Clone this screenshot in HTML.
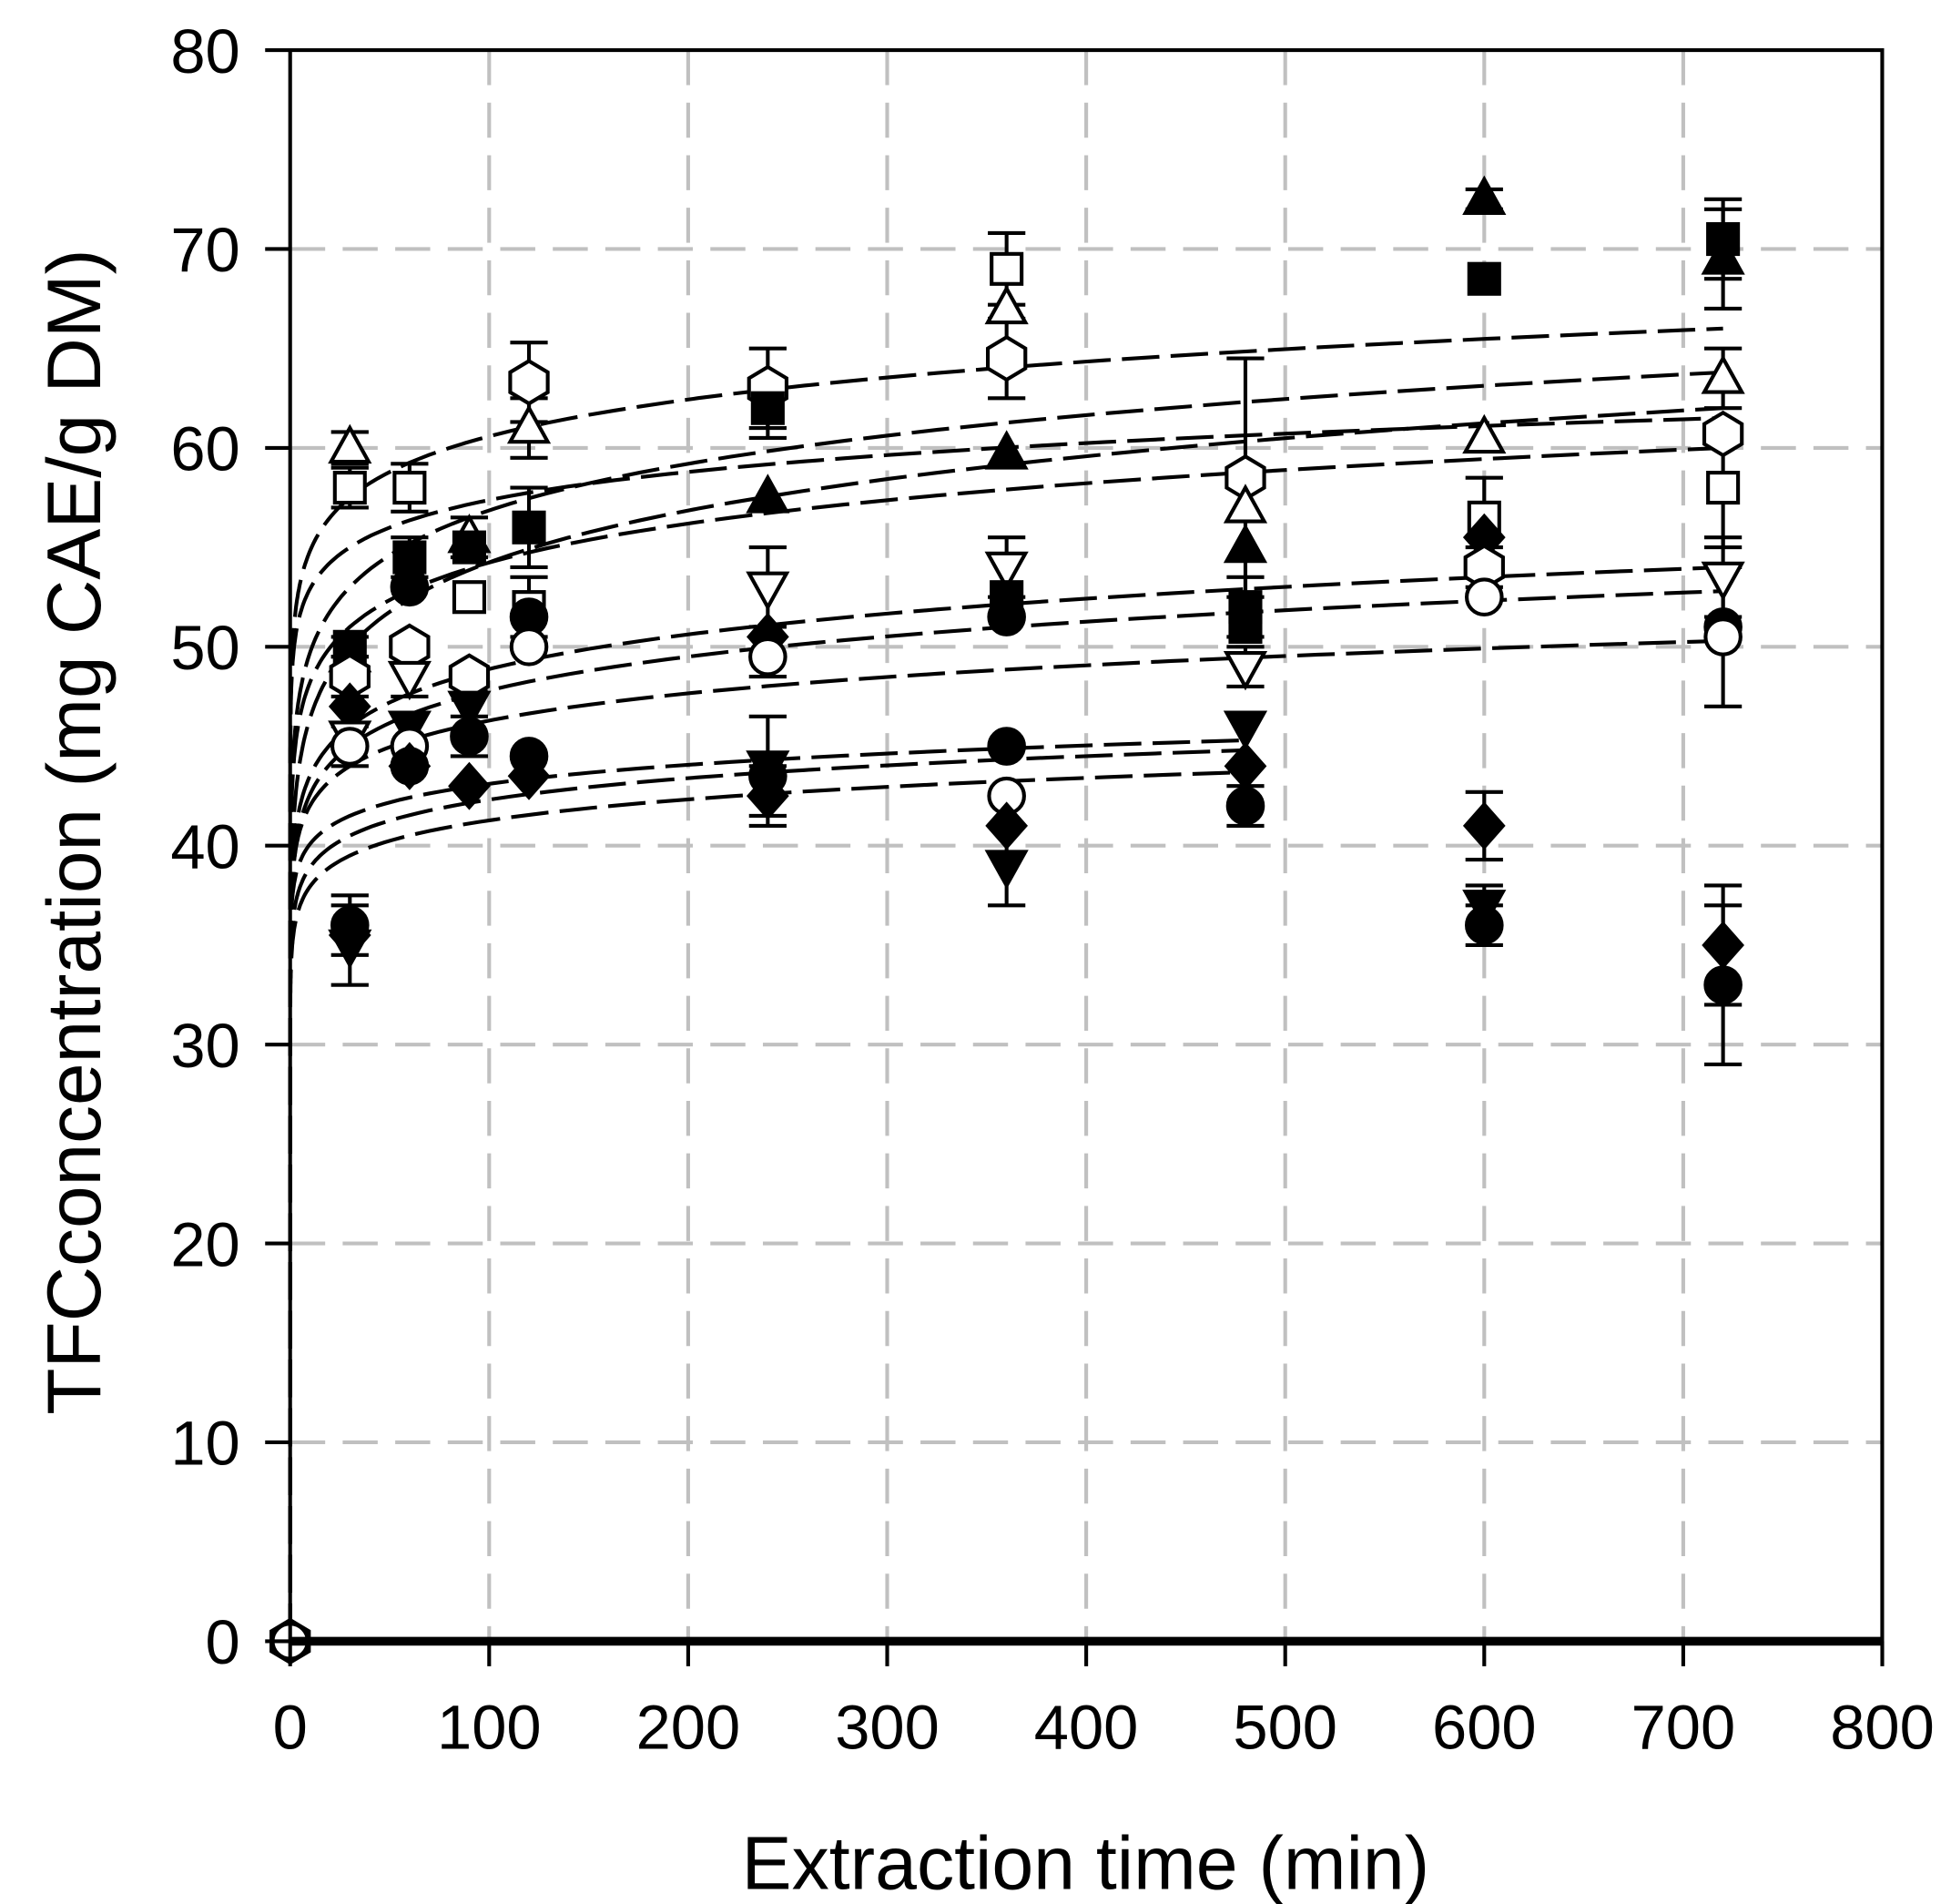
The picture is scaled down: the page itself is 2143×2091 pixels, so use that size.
<!DOCTYPE html>
<html><head><meta charset="utf-8"><style>
html,body{margin:0;padding:0;background:#fff}
svg{display:block}
text{font-family:"Liberation Sans",Arial,sans-serif;fill:#000}
</style></head><body>
<svg id="s" width="2143" height="2091" viewBox="0 0 1560 1522" xmlns="http://www.w3.org/2000/svg">
<rect width="1560" height="1522" fill="#fff"/>
<g id="grid" stroke="#c0c0c0" stroke-width="3" stroke-dasharray="28,14"></g>
<g id="curves" fill="none" stroke="#000" stroke-width="3" stroke-dasharray="30,9"></g>
<g id="err" stroke="#000" stroke-width="3"></g>
<g id="mk" stroke="#000" stroke-width="3"></g>
<g id="axes" stroke="#000" stroke-width="3"></g>
<g id="lbl" font-size="50"></g>
<text x="868" y="1510" font-size="60" text-anchor="middle">Extraction time (min)</text>
<text transform="translate(80,665) rotate(-90)" font-size="61" text-anchor="middle">TFCconcentration (mg CAE/g DM)</text>
</svg>
<script>
const NS="http://www.w3.org/2000/svg";
const X=t=>232+t*1.5913, Y=v=>1312-v*15.9;
function el(p,n,a){const e=document.createElementNS(NS,n);for(const k in a)e.setAttribute(k,a[k]);document.getElementById(p).appendChild(e);return e;}
for(let t=100;t<=700;t+=100)el("grid","line",{x1:X(t),y1:40,x2:X(t),y2:1312});
for(let v=10;v<=70;v+=10)el("grid","line",{x1:232,y1:Y(v),x2:1505,y2:Y(v)});
el("axes","rect",{x:232,y:40,width:1273,height:1272,fill:"none"});
el("axes","line",{x1:232,y1:1312,x2:1505,y2:1312,"stroke-width":7});
for(let v=0;v<=80;v+=10){el("axes","line",{x1:212,y1:Y(v),x2:232,y2:Y(v)});
 const t=el("lbl","text",{x:192,y:Y(v)+18,"text-anchor":"end"});t.textContent=v;}
for(let t=0;t<=800;t+=100){el("axes","line",{x1:X(t),y1:1312,x2:X(t),y2:1332});
 const e=el("lbl","text",{x:X(t),y:1398,"text-anchor":"middle"});e.textContent=t;}
const C=[[57.5,66,720],[53,63.8,720],[50,62,720],[55,61.5,720],[51,60,720],[46,54,720],[45,52.8,720],[44,50.3,720],[41.5,45.3,480],[40.5,44.8,480],[39.5,43.7,480]];
C.forEach(([a,b,te])=>{const n=Math.log(b/a)/Math.log(te/30);const A=a/Math.pow(30,n);let d="M"+X(0)+","+Y(0);
 for(let t=0.02;t<=te;t*=1.08){d+=" L"+X(t).toFixed(1)+","+Y(A*Math.pow(t,n)).toFixed(1);}
 d+=" L"+X(te)+","+Y(b);el("curves","path",{d});});
function mark(t,v,m,e){const x=X(t),y=Y(v);
 if(e){el("err","line",{x1:x,y1:Y(v-e),x2:x,y2:Y(v+e)});el("err","line",{x1:x-15,y1:Y(v+e),x2:x+15,y2:Y(v+e)});el("err","line",{x1:x-15,y1:Y(v-e),x2:x+15,y2:Y(v-e)});}
 const f=m[0]=="f"?"#000":"#fff",k=m.slice(1);
 if(k=="s")el("mk","rect",{x:x-12,y:y-12,width:24,height:24,fill:f});
 else if(k=="c")el("mk","circle",{cx:x,cy:y,r:14,fill:f});
 else if(k=="t")el("mk","polygon",{points:`${x},${y-16} ${x+15},${y+11} ${x-15},${y+11}`,fill:f});
 else if(k=="d")el("mk","polygon",{points:`${x},${y+16} ${x+15},${y-11} ${x-15},${y-11}`,fill:f});
 else if(k=="m")el("mk","polygon",{points:`${x},${y-17} ${x+15},${y} ${x},${y+17} ${x-15},${y}`,fill:f});
 else if(k=="h")el("mk","polygon",{points:`${x},${y-17} ${x+15},${y-8} ${x+15},${y+8} ${x},${y+17} ${x-15},${y+8} ${x-15},${y-8}`,fill:f});}
const D=[
[0,0,"oh"],[0,0,"oc"],
[30,60,"ot",0.8],[30,58,"os",1],[30,50,"fs",0.5],[30,49.5,"ft"],[30,48.5,"oh",1],[30,47,"fm"],[30,45.5,"od"],[30,45,"oc",1],[30,36,"fc",1.5],[30,35.5,"fm"],[30,35,"fd",2],
[60,58,"os",1.2],[60,54.5,"fs",1],[60,53,"fc"],[60,50,"oh"],[60,48.5,"od",1],[60,46,"fd"],[60,45,"oc"],[60,44,"fm"],[60,44,"fc"],
[90,55.5,"ot",1],[90,55,"fs"],[90,52.5,"os"],[90,48.5,"oh"],[90,47,"fd"],[90,45.5,"fc",1],[90,43,"fm"],
[120,63.3,"oh",2],[120,61,"ot",1.5],[120,56,"fs",2],[120,52,"os",1.5],[120,51.5,"fc"],[120,50,"oc"],[120,44.5,"fc"],[120,43.5,"fm"],
[240,63,"oh",2],[240,62,"fs",1.5],[240,57.5,"ft"],[240,53,"od",2],[240,50.5,"fm"],[240,49.5,"oc",1],[240,44,"fd",2.5],[240,43.5,"fc"],[240,42.5,"fm",1.5],
[360,69,"os",1.8],[360,67,"ot"],[360,64.5,"oh",2],[360,59.7,"ft"],[360,54,"od",1.5],[360,52.5,"fs"],[360,51.5,"fc"],[360,45,"fc"],[360,42.5,"oc"],[360,41,"fm"],[360,39,"fd",2],
[480,58.5,"oh",6],[480,57,"ot"],[480,55,"ft"],[480,52,"fs",1.5],[480,51,"fs"],[480,49,"od",1],[480,46,"fd"],[480,44,"fm"],[480,42,"fc",1],
[600,72.5,"ft",0.5],[600,68.5,"fs"],[600,60.5,"ot"],[600,56.5,"os",2],[600,55.5,"fm"],[600,54,"oh",1],[600,52.5,"oc"],[600,41,"fm",1.7],[600,37,"fd",1],[600,36,"fc",1],
[720,70.5,"fs",2],[720,69.5,"ft",2.5],[720,63.5,"ot",1.5],[720,60.7,"oh"],[720,58,"os",3],[720,53.5,"od",2],[720,51,"fc"],[720,50.5,"oc",3.5],[720,35,"fm",3],[720,33,"fc",4]];
D.forEach(d=>mark(...d));
</script>
</body></html>
